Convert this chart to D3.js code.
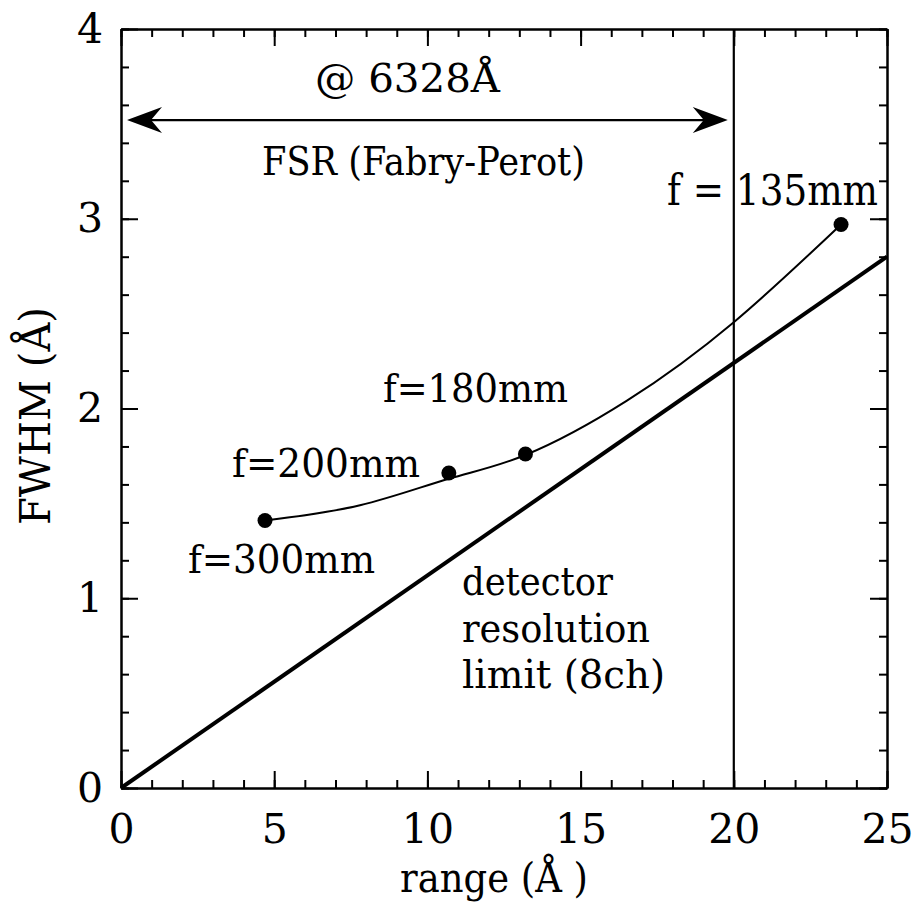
<!DOCTYPE html>
<html>
<head>
<meta charset="utf-8">
<script src="https://cdn.jsdelivr.net/npm/d3@7"></script>
<style>
  body { margin: 0; }
  .axis path, .axis line { fill: none; stroke: #000; stroke-width: 2; }
</style>
</head>
<body>
<script>
var serif = "'DejaVu Serif'";

// measured points (range in Å, FWHM in Å)
var focal = ["f=300mm", "f=200mm", "f=180mm", "f = 135mm"];
var rangeVals = [4.7, 10.7, 13.2, 23.5];
var fwhmVals = [1.41, 1.66, 1.76, 2.97];

// smooth curve
var fitX = [4.7, 7.8, 10.7, 13.2, 16.5, 20, 23.5];
var fitY = [1.41, 1.49, 1.63, 1.755, 2.04, 2.455, 2.97];

// detector resolution limit line
var limitX = [0, 25];
var limitY = [0, 2.8];

var fsrLimit = 20;   // vertical line
var fsrArrowY = 3.52;

var xTicks = [0, 5, 10, 15, 20, 25];
var yTicks = [0, 1, 2, 3, 4];

var w = 916, h = 911;
var svg = d3.select("body").append("svg")
  .attr("width", w).attr("height", h)
  .style("display", "block");

var x = d3.scaleLinear().domain([0, 25]).range([121, 887]);
var y = d3.scaleLinear().domain([0, 4]).range([788, 29]);

var majorLen = 17, minorLen = 8;

// minor ticks on all four sides
var xMinor = d3.range(0, 26, 1);
var yMinor = d3.range(0, 4.001, 0.2);

svg.append("g").attr("class", "axis")
  .attr("transform", "translate(0," + y(0) + ")")
  .call(d3.axisBottom(x).tickValues(xMinor).tickSizeInner(-minorLen).tickSizeOuter(0).tickFormat(""));
svg.append("g").attr("class", "axis")
  .attr("transform", "translate(0," + y(4) + ")")
  .call(d3.axisTop(x).tickValues(xMinor).tickSizeInner(-minorLen).tickSizeOuter(0).tickFormat(""));
svg.append("g").attr("class", "axis")
  .attr("transform", "translate(" + x(0) + ",0)")
  .call(d3.axisLeft(y).tickValues(yMinor).tickSizeInner(-minorLen).tickSizeOuter(0).tickFormat(""));
svg.append("g").attr("class", "axis")
  .attr("transform", "translate(" + x(25) + ",0)")
  .call(d3.axisRight(y).tickValues(yMinor).tickSizeInner(-minorLen).tickSizeOuter(0).tickFormat(""));

// major ticks with labels
var fmt = d3.format("d");
var xAxis = svg.append("g").attr("class", "axis")
  .attr("transform", "translate(0," + y(0) + ")")
  .call(d3.axisBottom(x).tickValues(xTicks).tickFormat(fmt).tickSizeInner(-majorLen).tickSizeOuter(0).tickPadding(26));
xAxis.attr("font-family", null);
xAxis.selectAll("text").style("font-family", serif).attr("font-size", 41);

var yAxis = svg.append("g").attr("class", "axis")
  .attr("transform", "translate(" + x(0) + ",0)")
  .call(d3.axisLeft(y).tickValues(yTicks).tickFormat(fmt).tickSizeInner(-majorLen).tickSizeOuter(0).tickPadding(18));
yAxis.attr("font-family", null);
yAxis.selectAll("text").style("font-family", serif).attr("font-size", 41);

svg.append("g").attr("class", "axis")
  .attr("transform", "translate(0," + y(4) + ")")
  .call(d3.axisTop(x).tickValues(xTicks).tickSizeInner(-majorLen).tickSizeOuter(0).tickFormat(""));
svg.append("g").attr("class", "axis")
  .attr("transform", "translate(" + x(25) + ",0)")
  .call(d3.axisRight(y).tickValues(yTicks).tickSizeInner(-majorLen).tickSizeOuter(0).tickFormat(""));

// vertical FSR line
svg.append("line")
  .attr("x1", x(fsrLimit)).attr("x2", x(fsrLimit))
  .attr("y1", y(4)).attr("y2", y(0))
  .attr("stroke", "#000").attr("stroke-width", 2.2);

// detector limit
var line = d3.line().x(function(d){ return x(d[0]); }).y(function(d){ return y(d[1]); });
svg.append("path")
  .datum(d3.zip(limitX, limitY))
  .attr("d", line)
  .attr("fill", "none").attr("stroke", "#000").attr("stroke-width", 4);

// fitted curve
svg.append("path")
  .datum(d3.zip(fitX, fitY))
  .attr("d", line.curve(d3.curveNatural))
  .attr("fill", "none").attr("stroke", "#000").attr("stroke-width", 2);

svg.selectAll("circle")
  .data(d3.zip(rangeVals, fwhmVals))
  .enter().append("circle")
  .attr("cx", function(d){ return x(d[0]); })
  .attr("cy", function(d){ return y(d[1]); })
  .attr("r", 7.5)
  .attr("fill", "#000");

// double arrow
var ay = y(fsrArrowY);
var xl = x(0) + 6, xr = x(fsrLimit) - 6;
svg.append("line")
  .attr("x1", xl + 20).attr("x2", xr - 20)
  .attr("y1", ay).attr("y2", ay)
  .attr("stroke", "#000").attr("stroke-width", 2.2);
function head(tip, dir) {
  return "M" + tip + "," + ay +
    "L" + (tip + dir * 35) + "," + (ay - 13) +
    "L" + (tip + dir * 24) + "," + ay +
    "L" + (tip + dir * 35) + "," + (ay + 13) + "Z";
}
svg.append("path").attr("d", head(xl, 1)).attr("fill", "#000");
svg.append("path").attr("d", head(xr, -1)).attr("fill", "#000");

// text
function label(txt, px, py, len, size) {
  return svg.append("text")
    .attr("x", px).attr("y", py)
    .style("font-family", serif)
    .attr("font-size", size || 40)
    .attr("textLength", len)
    .attr("lengthAdjust", "spacingAndGlyphs")
    .text(txt);
}
label("@ 6328Å", 315, 92, 185);
label("FSR (Fabry-Perot)", 262, 175, 323);
label(focal[3], 667, 205, 211, 42);
label(focal[2], 383, 402, 185);
label(focal[1], 232, 477, 188);
label(focal[0], 188, 573, 187);
label("detector", 462, 595, 151);
label("resolution", 462, 642, 188);
label("limit (8ch)", 462, 688, 203);

label("range (Å )", 400, 892, 188, 41);

svg.append("text")
  .attr("transform", "translate(50,525) rotate(-90)")
  .style("font-family", serif)
  .attr("font-size", 43)
  .attr("textLength", 218)
  .attr("lengthAdjust", "spacingAndGlyphs")
  .text("FWHM (Å)");
</script>
</body>
</html>
